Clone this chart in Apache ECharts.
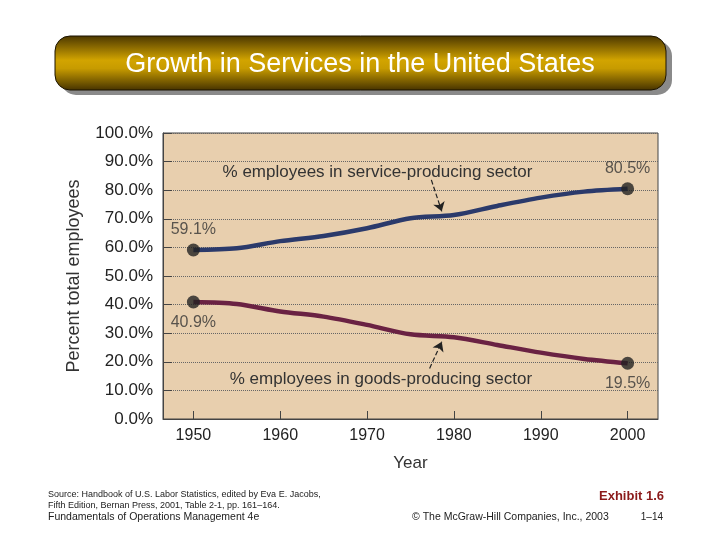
<!DOCTYPE html>
<html>
<head>
<meta charset="utf-8">
<title>Growth in Services in the United States</title>
<script src="https://cdn.jsdelivr.net/npm/echarts@6/dist/echarts.min.js"></script>
<style>
  html, body { margin: 0; padding: 0; background: #fff; }
  #chart { width: 720px; height: 540px; }
</style>
</head>
<body>
<div id="chart"></div>
<script>
// data read from the exhibit
var years = [1950, 1955, 1960, 1965, 1970, 1975, 1980, 1985, 1990, 1995, 2000];
var serviceShare = [59.1, 59.7, 62.2, 64.0, 66.7, 70.2, 71.3, 74.5, 77.4, 79.5, 80.5];
var goodsShare = [40.9, 40.2, 37.6, 35.8, 32.9, 29.6, 28.6, 25.9, 23.2, 21.0, 19.5];
var yearTicks = [1950, 1960, 1970, 1980, 1990, 2000];

var chart = echarts.init(document.getElementById('chart'));
var font = 'Liberation Sans, Arial, sans-serif';

function pairs(xs, ys) {
  return xs.map(function (x, i) { return [x, ys[i]]; });
}

function ends(xs, ys) {
  var n = xs.length - 1;
  return [[xs[0], ys[0]], [xs[n], ys[n]]];
}

var lastService = ends(years, serviceShare);
var lastGoods = ends(years, goodsShare);

var option = {
  backgroundColor: '#fff',
  animation: false,
  textStyle: { fontFamily: font },
  grid: {
    left: 163,
    right: 62,
    top: 133,
    bottom: 121,
    show: true,
    backgroundColor: '#e8cfae',
    borderColor: '#444',
    borderWidth: 1
  },
  xAxis: {
    type: 'value',
    min: 1946.5,
    max: 2003.5,
    name: 'Year',
    nameLocation: 'middle',
    nameGap: 36,
    nameTextStyle: { fontSize: 17, color: '#333' },
    axisLine: { show: true, lineStyle: { color: '#444' } },
    axisTick: { show: true, inside: true, length: 8, customValues: yearTicks, lineStyle: { color: '#444' } },
    axisLabel: {
      customValues: yearTicks,
      fontSize: 16,
      color: '#222',
      margin: 9,
      formatter: function (v) { return String(v); }
    },
    splitLine: { show: false }
  },
  yAxis: {
    type: 'value',
    min: 0,
    max: 100,
    interval: 10,
    name: 'Percent total employees',
    nameLocation: 'middle',
    nameRotate: 90,
    nameGap: 80,
    nameTextStyle: { fontSize: 18, color: '#333' },
    axisLine: { show: true, lineStyle: { color: '#444' } },
    axisTick: { show: true, inside: true, length: 9, lineStyle: { color: '#444' } },
    axisLabel: {
      fontSize: 17,
      color: '#222',
      margin: 10,
      formatter: function (v) { return v.toFixed(1) + '%'; }
    },
    splitLine: { show: true, lineStyle: { color: '#666', type: 'dotted', width: 1 } }
  },
  series: [{
    name: 'service',
    type: 'line',
    smooth: 0.3,
    symbol: 'none',
    lineStyle: { color: '#2b3a6b', width: 4.5 },
    data: pairs(years, serviceShare),
    markPoint: {
      symbol: 'circle',
      symbolSize: 0,
      label: { show: true, fontSize: 17, color: '#333', formatter: '{b}' },
      data: [{ name: '% employees in service-producing sector', coord: [1971.2, 86.1] }]
    },
    markLine: {
      silent: true,
      symbol: ['none', 'arrow'],
      symbolSize: 9,
      label: { show: false },
      lineStyle: { color: '#222', type: 'dashed', width: 1.2 },
      data: [[{ coord: [1977.4, 83.6] }, { coord: [1978.6, 72.6] }]]
    }
  }, {
    name: 'goods',
    type: 'line',
    smooth: 0.3,
    symbol: 'none',
    lineStyle: { color: '#6a2243', width: 4.5 },
    data: pairs(years, goodsShare),
    markPoint: {
      symbol: 'circle',
      symbolSize: 0,
      label: { show: true, fontSize: 17, color: '#333', formatter: '{b}' },
      data: [{ name: '% employees in goods-producing sector', coord: [1971.6, 14.0] }]
    },
    markLine: {
      silent: true,
      symbol: ['none', 'arrow'],
      symbolSize: 9,
      label: { show: false },
      lineStyle: { color: '#222', type: 'dashed', width: 1.2 },
      data: [[{ coord: [1977.2, 17.7] }, { coord: [1978.6, 27.0] }]]
    }
  }, {
    // end dots, labels above
    type: 'scatter',
    symbolSize: 13,
    itemStyle: { color: '#222' },
    label: {
      show: true,
      position: 'top',
      distance: 6,
      fontSize: 16,
      color: '#333',
      formatter: function (p) { return p.value[1].toFixed(1) + '%'; }
    },
    data: lastService,
    z: 5
  }, {
    // end dots, labels below
    type: 'scatter',
    symbolSize: 13,
    itemStyle: { color: '#222' },
    label: {
      show: true,
      position: 'bottom',
      distance: 6,
      fontSize: 16,
      color: '#333',
      formatter: function (p) { return p.value[1].toFixed(1) + '%'; }
    },
    data: lastGoods,
    z: 5
  }],
  graphic: [{
    // banner shadow
    type: 'rect',
    shape: { x: 61, y: 41, width: 611, height: 54, r: 15 },
    style: { fill: '#8a8a8a' },
    z: 1
  }, {
    type: 'rect',
    shape: { x: 55, y: 36, width: 611, height: 54, r: 15 },
    style: {
      fill: new echarts.graphic.LinearGradient(0, 0, 0, 1, [
        { offset: 0, color: '#4a3600' },
        { offset: 0.45, color: '#d2a400' },
        { offset: 0.6, color: '#c79b00' },
        { offset: 1, color: '#453200' }
      ]),
      stroke: '#1a1200',
      lineWidth: 1
    },
    z: 2
  }, {
    type: 'text',
    style: {
      text: 'Growth in Services in the United States',
      x: 360, y: 65, align: 'center', verticalAlign: 'middle',
      fill: '#fff', font: '27px ' + font
    },
    z: 3
  }, {
    type: 'text',
    style: {
      text: 'Source: Handbook of U.S. Labor Statistics, edited by Eva E. Jacobs,',
      x: 48, y: 495, verticalAlign: 'middle', fill: '#222', font: '9px ' + font
    }
  }, {
    type: 'text',
    style: {
      text: 'Fifth Edition, Bernan Press, 2001, Table 2-1, pp. 161\u2013164.',
      x: 48, y: 506, verticalAlign: 'middle', fill: '#222', font: '9px ' + font
    }
  }, {
    type: 'text',
    style: {
      text: 'Fundamentals of Operations Management 4e',
      x: 48, y: 517, verticalAlign: 'middle', fill: '#222', font: '10.5px ' + font
    }
  }, {
    type: 'text',
    style: {
      text: 'Exhibit 1.6',
      x: 664, y: 496, align: 'right', verticalAlign: 'middle', fill: '#8b1a1a', font: 'bold 13px ' + font
    }
  }, {
    type: 'text',
    style: {
      text: '\u00a9 The McGraw-Hill Companies, Inc., 2003',
      x: 412, y: 517, verticalAlign: 'middle', fill: '#222', font: '10.5px ' + font
    }
  }, {
    type: 'text',
    style: {
      text: '1\u201314',
      x: 663, y: 517, align: 'right', verticalAlign: 'middle', fill: '#222', font: '10px ' + font
    }
  }]
};

chart.setOption(option);
</script>
</body>
</html>
